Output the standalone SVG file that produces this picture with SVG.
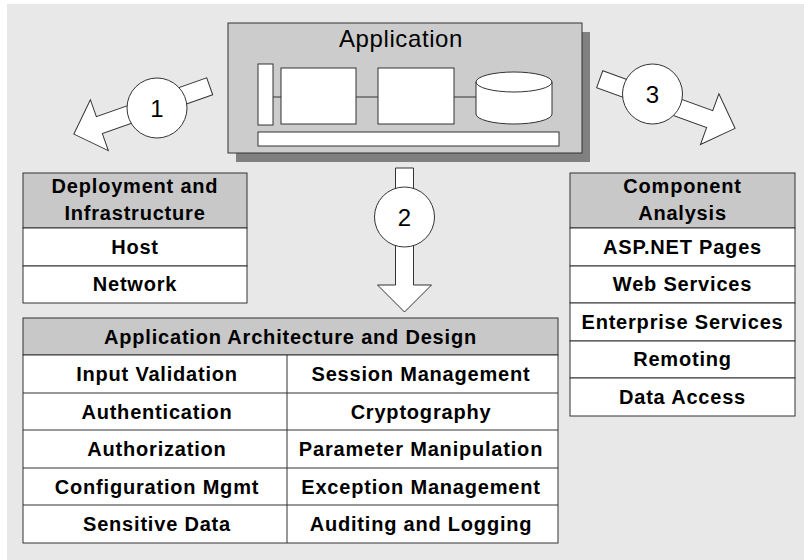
<svg xmlns="http://www.w3.org/2000/svg" width="804" height="560" viewBox="0 0 804 560">
<style>
.bg{fill:#e8e8e8}
.ln{stroke:#333;stroke-width:1;fill:none}
.box{fill:#fff;stroke:#333;stroke-width:1}
.hdr{fill:#c8c8c8;stroke:#333;stroke-width:1}
.arrow{fill:#fff;stroke:#333;stroke-width:1;stroke-linejoin:miter}
.t{font-family:"Liberation Sans",Arial,Helvetica,sans-serif;font-weight:bold;font-size:20px;letter-spacing:0.8px;text-anchor:middle;fill:#000}
.num{font-family:"Liberation Sans",Arial,Helvetica,sans-serif;font-size:24px;text-anchor:middle;fill:#000}
.title{font-family:"Liberation Sans",Arial,Helvetica,sans-serif;font-size:24px;letter-spacing:0.6px;text-anchor:middle;fill:#000}
</style>
<defs>
<polygon id="arr" points="0,-9 117,-9 117,-27 144,0 117,27 117,9 0,9"/>
</defs>
<rect x="0" y="0" width="804" height="560" fill="#fff"/>
<rect class="bg" x="7" y="4" width="797" height="556"/>

<g id="application">
<rect x="236" y="32" width="354" height="130" fill="#808080"/>
<rect x="228" y="23" width="354" height="130" fill="#cccccc" stroke="#333" stroke-width="1"/>
<text class="title" x="401" y="47">Application</text>
<line class="ln" x1="273" y1="97" x2="281" y2="97"/>
<line class="ln" x1="356" y1="97" x2="378" y2="97"/>
<line class="ln" x1="454" y1="97" x2="476" y2="97"/>
<rect class="box" x="258" y="64" width="15" height="61"/>
<rect class="box" x="281" y="68" width="75" height="56"/>
<rect class="box" x="378" y="68" width="76" height="56"/>
<path class="box" d="M476,82 L476,114 A38,10 0 0 0 552,114 L552,82 A38,10 0 0 0 476,82 Z"/>
<path class="ln" d="M476,82 A38,10 0 0 0 552,82"/>
<rect class="box" x="258" y="132" width="301" height="14"/>
</g>

<g id="connectors">
<g id="arrow1">
<use href="#arr" class="arrow" transform="translate(209.7,86.3) rotate(160.6)"/>
<circle class="box" cx="157" cy="108" r="30"/>
<text class="num" x="157" y="117">1</text>
</g>
<g id="arrow2">
<use href="#arr" class="arrow" transform="translate(404.5,168) rotate(90)"/>
<circle class="box" cx="404.5" cy="217" r="30"/>
<text class="num" x="404.5" y="226">2</text>
</g>
<g id="arrow3">
<use href="#arr" class="arrow" transform="translate(599.7,79.2) rotate(19.95)"/>
<circle class="box" cx="652.5" cy="94" r="30"/>
<text class="num" x="652.5" y="103">3</text>
</g>
</g>

<g id="deployment">
<rect class="hdr" x="23" y="173" width="224" height="55"/>
<rect class="box" x="23" y="228" width="224" height="38"/>
<rect class="box" x="23" y="266" width="224" height="37"/>
<text class="t" x="135" y="193">Deployment and</text>
<text class="t" x="135" y="220">Infrastructure</text>
<text class="t" x="135" y="253.5">Host</text>
<text class="t" x="135" y="291">Network</text>
</g>

<g id="component">
<rect class="hdr" x="570" y="173" width="225" height="55"/>
<rect class="box" x="570" y="228" width="225" height="38"/>
<rect class="box" x="570" y="266" width="225" height="37"/>
<rect class="box" x="570" y="303" width="225" height="38"/>
<rect class="box" x="570" y="341" width="225" height="37"/>
<rect class="box" x="570" y="378" width="225" height="38"/>
<text class="t" x="682.5" y="193">Component</text>
<text class="t" x="682.5" y="220">Analysis</text>
<text class="t" x="682.5" y="253.5">ASP.NET Pages</text>
<text class="t" x="682.5" y="291">Web Services</text>
<text class="t" x="682.5" y="328.5">Enterprise Services</text>
<text class="t" x="682.5" y="366">Remoting</text>
<text class="t" x="682.5" y="403.5">Data Access</text>
</g>

<g id="architecture">
<rect class="hdr" x="23" y="318" width="535" height="37"/>
<rect class="box" x="23" y="355" width="535" height="188"/>
<line class="ln" x1="23" y1="393" x2="558" y2="393"/>
<line class="ln" x1="23" y1="430" x2="558" y2="430"/>
<line class="ln" x1="23" y1="468" x2="558" y2="468"/>
<line class="ln" x1="23" y1="505" x2="558" y2="505"/>
<line class="ln" x1="287" y1="355" x2="287" y2="543"/>
<text class="t" x="290.5" y="344">Application Architecture and Design</text>
<text class="t" x="157" y="381">Input Validation</text>
<text class="t" x="157" y="418.5">Authentication</text>
<text class="t" x="157" y="456">Authorization</text>
<text class="t" x="157" y="493.5">Configuration Mgmt</text>
<text class="t" x="157" y="531">Sensitive Data</text>
<text class="t" x="421" y="381">Session Management</text>
<text class="t" x="421" y="418.5">Cryptography</text>
<text class="t" x="421" y="456">Parameter Manipulation</text>
<text class="t" x="421" y="493.5">Exception Management</text>
<text class="t" x="421" y="531">Auditing and Logging</text>
</g>
</svg>
